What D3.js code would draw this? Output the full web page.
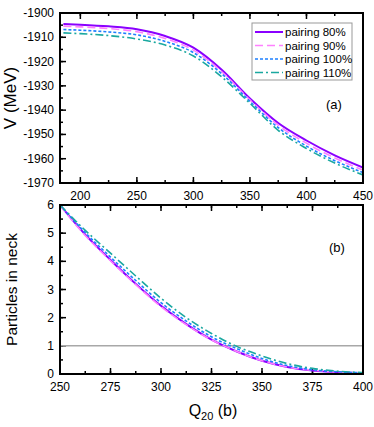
<!DOCTYPE html>
<meta charset="utf-8">
<style>
body { margin: 0; background: #fff; }
text { font-family: "Liberation Sans", Arial, sans-serif; fill: #000; }
.frame { fill: none; stroke: #000; stroke-width: 2px; }
.line { fill: none; }
</style>
<body>
<script src="https://d3js.org/d3.v7.min.js"></script>
<script>
// ---- data ----
var seriesNames = ["pairing 80%", "pairing 90%", "pairing 100%", "pairing 110%"];
var seriesColors = ["#8a00ff", "#ff80ff", "#1e80ff", "#1aa8a0"];
var seriesDash = [null, "8,4", "3,2", "8,3,2,3"];
var seriesWidth = [2, 1.6, 1.6, 1.6];

// panel (a): potential energy vs Q20
var qA = [185, 200, 225, 250, 275, 300, 325, 350, 375, 400, 425, 450];
var v80 = [-1904.5, -1904.8, -1905.5, -1906.7, -1909.5, -1914.3, -1923.4, -1935.2, -1945.3, -1952.5, -1958.6, -1963.6];
var v90 = [-1905.4, -1905.7, -1906.4, -1907.7, -1910.5, -1915.3, -1924.2, -1935.8, -1946.2, -1953.6, -1959.7, -1964.7];
var v100 = [-1906.8, -1907.1, -1907.8, -1909.0, -1911.7, -1916.3, -1925.0, -1936.4, -1947.2, -1954.8, -1960.8, -1965.7];
var v110 = [-1908.2, -1908.5, -1909.3, -1910.7, -1913.2, -1917.7, -1926.3, -1937.2, -1948.3, -1955.8, -1961.8, -1966.7];

// panel (b): particles in neck vs Q20
var qB = [250, 262.5, 275, 287.5, 300, 312.5, 325, 337.5, 350, 362.5, 375, 387.5, 400];
var n80 = [6.0, 4.95, 4.05, 3.2, 2.42, 1.77, 1.22, 0.8, 0.47, 0.25, 0.12, 0.06, 0.03];
var n90 = [5.98, 4.92, 4.02, 3.17, 2.39, 1.75, 1.21, 0.8, 0.47, 0.25, 0.13, 0.07, 0.04];
var n100 = [6.0, 5.02, 4.15, 3.32, 2.53, 1.88, 1.32, 0.9, 0.55, 0.3, 0.15, 0.08, 0.04];
var n110 = [6.0, 5.10, 4.29, 3.48, 2.69, 2.0, 1.44, 0.98, 0.64, 0.37, 0.2, 0.1, 0.05];

var ticksAx = [200, 250, 300, 350, 400, 450];
var ticksAy = [-1900, -1910, -1920, -1930, -1940, -1950, -1960, -1970];
var ticksBx = [250, 275, 300, 325, 350, 375, 400];
var ticksBy = [0, 1, 2, 3, 4, 5, 6];

var W = 374, H = 427;
var left = 60, right = 363;

var svg = d3.select("body").append("svg")
    .attr("width", W).attr("height", H);

function drawTicks(g, scale, vals, orient, len, y0, x0) {
    vals.forEach(function(v) {
        if (orient == "bottom") g.append("line").attr("x1", scale(v)).attr("x2", scale(v)).attr("y1", y0).attr("y2", y0 - len);
        if (orient == "top") g.append("line").attr("x1", scale(v)).attr("x2", scale(v)).attr("y1", y0).attr("y2", y0 + len);
        if (orient == "left") g.append("line").attr("y1", scale(v)).attr("y2", scale(v)).attr("x1", x0).attr("x2", x0 + len);
    });
    g.selectAll("line").attr("stroke", "#000").attr("stroke-width", 1.5);
}

function panel(cfg) {
    var x = d3.scaleLinear().domain(cfg.xd).range([left, right]);
    var y = d3.scaleLinear().domain(cfg.yd).range([cfg.bottom, cfg.top]);
    var g = svg.append("g");

    // ticks
    var tg = g.append("g");
    var xMinor = d3.range(cfg.xd[0] - cfg.xd[0] % cfg.xm, cfg.xd[1] + 0.001, cfg.xm).filter(function(v) { return v > cfg.xd[0] && v < cfg.xd[1]; });
    var yMinor = d3.range(cfg.yd[0], cfg.yd[1] + 0.001, cfg.ym).filter(function(v) { return v > cfg.yd[0] && v < cfg.yd[1]; });
    drawTicks(tg, x, xMinor, "bottom", 3, cfg.bottom);
    drawTicks(tg, x, xMinor, "top", 3, cfg.top);
    drawTicks(tg, y, yMinor, "left", 3, 0, left);
    drawTicks(tg, x, cfg.xt, "bottom", 6, cfg.bottom);
    drawTicks(tg, x, cfg.xt, "top", 6, cfg.top);
    drawTicks(tg, y, cfg.yt, "left", 6, 0, left);

    // tick labels
    g.selectAll(".xl").data(cfg.xt).enter().append("text")
        .attr("x", function(d) { return x(d); })
        .attr("y", cfg.bottom + 17)
        .attr("text-anchor", "middle")
        .style("font-size", "12px")
        .text(function(d) { return d; });
    g.selectAll(".yl").data(cfg.yt).enter().append("text")
        .attr("x", left - 6)
        .attr("y", function(d) { return y(d) + 4; })
        .attr("text-anchor", "end")
        .style("font-size", "12px")
        .text(function(d) { return d; });

    // y title
    g.append("text")
        .attr("transform", "translate(" + cfg.ytx + "," + ((cfg.top + cfg.bottom) / 2) + ") rotate(-90)")
        .attr("text-anchor", "middle")
        .style("font-size", cfg.ytSize)
        .text(cfg.ytitle);

    var clipId = "clip" + cfg.name;
    svg.append("clipPath").attr("id", clipId).append("rect")
        .attr("x", left).attr("y", cfg.top).attr("width", right - left).attr("height", cfg.bottom - cfg.top);

    var pg = g.append("g").attr("clip-path", "url(#" + clipId + ")");
    if (cfg.hline != null) {
        pg.append("line")
            .attr("x1", left).attr("x2", right)
            .attr("y1", y(cfg.hline)).attr("y2", y(cfg.hline))
            .attr("stroke", "#a8a8a8").attr("stroke-width", 1.5);
    }

    var line = d3.line()
        .x(function(d) { return x(d[0]); })
        .y(function(d) { return y(d[1]); })
        .curve(d3.curveMonotoneX);

    cfg.series.forEach(function(vals, i) {
        var pts = cfg.xs.map(function(q, j) { return [q, vals[j]]; });
        pg.append("path")
            .datum(pts)
            .attr("class", "line")
            .attr("d", line)
            .attr("stroke", seriesColors[i])
            .attr("stroke-width", seriesWidth[i])
            .attr("stroke-dasharray", seriesDash[i]);
    });

    g.append("rect").attr("class", "frame")
        .attr("x", left).attr("y", cfg.top)
        .attr("width", right - left).attr("height", cfg.bottom - cfg.top);

    g.append("text")
        .attr("x", cfg.tagX).attr("y", cfg.tagY)
        .style("font-size", "13px")
        .text(cfg.tag);
    return g;
}

panel({
    name: "a", xd: [182, 450], yd: [-1970, -1900], top: 13, bottom: 183,
    xt: ticksAx, yt: ticksAy, xm: 25, ym: 5,
    xs: qA, series: [v80, v90, v100, v110],
    ytitle: "V (MeV)", ytx: 16, ytSize: "17px", tag: "(a)", tagX: 326, tagY: 109
});

panel({
    name: "b", xd: [250, 400], yd: [0, 6], top: 205, bottom: 374,
    xt: ticksBx, yt: ticksBy, xm: 12.5, ym: 0.5,
    xs: qB, series: [n80, n90, n100, n110], hline: 1,
    ytitle: "Particles in neck", ytx: 17, ytSize: "15.5px", tag: "(b)", tagX: 329, tagY: 252
});

// x title of bottom panel
var xt = svg.append("text")
    .attr("x", 213).attr("y", 416)
    .attr("text-anchor", "middle")
    .style("font-size", "16px");
xt.append("tspan").text("Q");
xt.append("tspan").attr("dy", 4).style("font-size", "11px").text("20");
xt.append("tspan").attr("dy", -4).text(" (b)");

// legend
var lg = svg.append("g").attr("transform", "translate(252,23)");
lg.append("rect").attr("width", 100).attr("height", 57)
    .attr("fill", "#fff").attr("stroke", "#999").attr("stroke-width", 1);
var items = lg.selectAll(".item").data(seriesNames).enter().append("g")
    .attr("transform", function(d, i) { return "translate(0," + (9 + i * 13.5) + ")"; });
items.append("line")
    .attr("x1", 3).attr("x2", 31).attr("y1", 0).attr("y2", 0)
    .attr("stroke", function(d, i) { return seriesColors[i]; })
    .attr("stroke-width", function(d, i) { return seriesWidth[i]; })
    .attr("stroke-dasharray", function(d, i) { return seriesDash[i]; });
items.append("text")
    .attr("x", 33).attr("y", 4)
    .style("font-size", "11.5px")
    .text(function(d) { return d; });
</script>
</body>
